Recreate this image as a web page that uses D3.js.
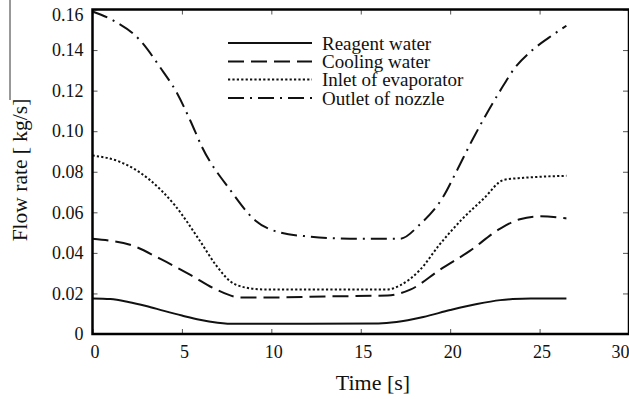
<!DOCTYPE html>
<html>
<head>
<meta charset="utf-8">
<script src="https://d3js.org/d3.v7.min.js"></script>
<style>
  body { margin: 0; background: white; }
  svg { display: block; font-family: "Liberation Serif", "Times New Roman", serif; }
</style>
</head>
<body>
<svg width="629" height="399"></svg>
<script>
// data: time [s] and flow rate [kg/s]
var reagentT = [0, 1, 2, 3, 4, 5, 6, 7, 8, 12, 16, 17, 18.5, 20, 21.5, 22.8, 23.5, 24.5, 26.5];
var reagentV = [0.0175, 0.0172, 0.0158, 0.0138, 0.0114, 0.0091, 0.0070, 0.0056, 0.0050, 0.0050, 0.0052, 0.0059, 0.0084, 0.0118, 0.0148, 0.0167, 0.0172, 0.0175, 0.0175];

var coolingT = [0, 1, 2.1, 3.8, 5.5, 6.9, 8.3, 10, 13, 16.5, 17.8, 19.4, 21.1, 22.8, 23.9, 25, 26.5];
var coolingV = [0.047, 0.046, 0.044, 0.037, 0.029, 0.022, 0.018, 0.018, 0.0185, 0.019, 0.022, 0.0315, 0.041, 0.052, 0.0566, 0.058, 0.057];

var inletT = [0, 1.5, 3.2, 4.6, 6, 6.9, 7.7, 8.5, 9.5, 13, 16.5, 17.2, 18.3, 19.4, 20.6, 21.9, 23, 24.1, 26.5];
var inletV = [0.088, 0.085, 0.076, 0.0635, 0.046, 0.034, 0.026, 0.023, 0.022, 0.022, 0.022, 0.0240, 0.0315, 0.044, 0.056, 0.067, 0.076, 0.077, 0.078];

var outletT = [0, 1.15, 2.66, 3.78, 4.73, 5.46, 6.13, 7.7, 9.1, 10.5, 12.2, 14.4, 17.2, 18.3, 19.6, 20.4, 21.2, 22, 22.8, 23.6, 24.6, 25.5, 26.5];
var outletV = [0.159, 0.1546, 0.1448, 0.1315, 0.1187, 0.1054, 0.0921, 0.071, 0.056, 0.050, 0.048, 0.047, 0.047, 0.054, 0.0675, 0.081, 0.095, 0.108, 0.120, 0.131, 0.140, 0.146, 0.152];

var seriesNames = ["Reagent water", "Cooling water", "Inlet of evaporator", "Outlet of nozzle"];
var xTicks = [0, 5, 10, 15, 20, 25, 30];
var yTicks = [0, 0.02, 0.04, 0.06, 0.08, 0.10, 0.12, 0.14, 0.16];
var yTickLabels = ["0", "0.02", "0.04", "0.06", "0.08", "0.10", "0.12", "0.14", "0.16"];

var dashes = ["none", "16,7", "2.2,2.2", "16,6,2,6"];

var svg = d3.select("svg");
var mLeft = 92.5, mRight = 629, mTop = 9.5, mBottom = 334;

var x = d3.scaleLinear().domain([0, 30]).range([mLeft, mRight]);
var y = d3.scaleLinear().domain([0, 0.16]).range([mBottom, mTop]);

var series = [
  { t: reagentT, v: reagentV },
  { t: coolingT, v: coolingV },
  { t: inletT, v: inletV },
  { t: outletT, v: outletV }
];

var line = d3.line()
  .x(function(d) { return x(d[0]); })
  .y(function(d) { return y(d[1]); })
  .curve(d3.curveMonotoneX);

series.forEach(function(s, i) {
  svg.append("path")
    .datum(d3.zip(s.t, s.v))
    .attr("d", line)
    .attr("fill", "none")
    .attr("stroke", "#111")
    .attr("stroke-width", 2)
    .attr("stroke-dasharray", dashes[i]);
});

// axes with inward ticks
function styleAxis(g) {
  g.select(".domain").remove();
  g.selectAll(".tick line").attr("stroke", "#555").attr("stroke-width", 1);
  g.selectAll("text").attr("font-family", "Liberation Serif, serif").attr("font-size", 18).attr("fill", "#111");
}

var xAxisG = svg.append("g").attr("transform", "translate(0," + mBottom + ")")
  .call(d3.axisBottom(x).tickValues(xTicks).tickSize(-5).tickPadding(11))
  .call(styleAxis);
xAxisG.selectAll(".tick text").attr("dx", 2);
xAxisG.selectAll(".tick text").filter(function(d) { return d === 30; }).attr("dx", -9);
svg.append("g").attr("transform", "translate(0," + mTop + ")")
  .call(d3.axisTop(x).tickValues(xTicks).tickSize(-5).tickFormat(""))
  .call(styleAxis);
var yAxisG = svg.append("g").attr("transform", "translate(" + mLeft + ",0)")
  .call(d3.axisLeft(y).tickValues(yTicks).tickSize(-5).tickPadding(9)
    .tickFormat(function(d, i) { return yTickLabels[i]; }))
  .call(styleAxis);
yAxisG.selectAll(".tick text").filter(function(d) { return d === 0.16; }).attr("dy", "0.62em");
svg.append("g").attr("transform", "translate(" + mRight + ",0)")
  .call(d3.axisRight(y).tickValues(yTicks).tickSize(-6).tickFormat(""))
  .call(styleAxis);

// frame
svg.append("path")
  .attr("d", "M" + mLeft + "," + mTop + "V" + mBottom + "H" + mRight + "V" + mTop + "Z")
  .attr("fill", "none").attr("stroke", "#000").attr("stroke-width", 2.5);

// axis titles
svg.append("text").attr("x", 373).attr("y", 390).attr("text-anchor", "middle")
  .attr("font-size", 22).attr("fill", "#111").text("Time [s]");
svg.append("text").attr("transform", "translate(27,170) rotate(-90)").attr("text-anchor", "middle")
  .attr("font-size", 21.5).attr("fill", "#111").text("Flow rate [ kg/s]");
svg.append("line").attr("x1", 10).attr("x2", 10).attr("y1", 0).attr("y2", 100)
  .attr("stroke", "#333").attr("stroke-width", 1);

// legend
var legendY = [43, 61.5, 79.5, 98];
seriesNames.forEach(function(name, i) {
  svg.append("line").attr("x1", 228).attr("x2", 312).attr("y1", legendY[i]).attr("y2", legendY[i])
    .attr("stroke", "#111").attr("stroke-width", 2).attr("stroke-dasharray", dashes[i]);
  svg.append("text").attr("x", 322).attr("y", legendY[i]).attr("dy", "0.35em")
    .attr("font-size", 19).attr("fill", "#111").text(name);
});
</script>
</body>
</html>
